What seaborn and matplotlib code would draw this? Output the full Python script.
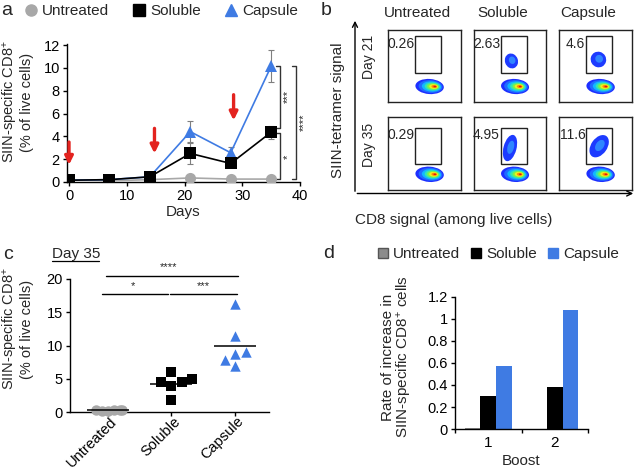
import numpy as np
import pandas as pd
import matplotlib
matplotlib.use("Agg")
import matplotlib.pyplot as plt
import matplotlib.transforms as mtransforms
from matplotlib.patches import Ellipse, Rectangle, FancyArrowPatch
from matplotlib.lines import Line2D
import seaborn as sns

# ---- data ----
# a: time course (% SIIN-specific CD8+ of live cells)
days = [0, 7, 14, 21, 28, 35]
untreated_time = [0.2, 0.1, 0.2, 0.35, 0.25, 0.25]
soluble_time = [0.15, 0.2, 0.45, 2.5, 1.62, 4.36]
soluble_err = [0.05, 0.05, 0.1, 0.95, 0.3, 0.58]
capsule_time = [0.15, 0.2, 0.45, 4.41, 2.56, 10.15]
capsule_err = [0.05, 0.05, 0.1, 0.9, 0.5, 1.4]
boost_days = [0, 14.8, 28.5]
arrow_tail = [3.5, 4.7, 7.65]
arrow_tip = [1.5, 2.5, 5.4]

# b: flow cytometry gates
flow_groups = ["Untreated", "Soluble", "Capsule"]
flow_days = ["Day 21", "Day 35"]
flow_pct = [["0.26", "2.63", "4.6"], ["0.29", "4.95", "11.6"]]

# c: day 35 individual mice
groups = ["Untreated", "Soluble", "Capsule"]
untreated_d35 = [0.2, 0.3, 0.4, 0.25, 0.35, 0.3]
soluble_d35 = [5.0, 4.5, 4.0, 4.6, 6.0, 1.8]
capsule_d35 = [16.2, 11.4, 9.0, 8.7, 7.8, 7.0]

# d: rate of increase per boost
boosts = ["1", "2"]
untreated_rate = [0.012, 0.004]
soluble_rate = [0.30, 0.385]
capsule_rate = [0.575, 1.08]
rate_ticks = [0, 0.2, 0.4, 0.6, 0.8, 1.0, 1.2]
rate_labels = ["0", "0.2", "0.4", "0.6", "0.8", "1", "1.2"]

GREY = "#a8a8a8"
BLUE = "#3f7be3"
RED = "#e3231f"
W, H = 637, 469

sns.set_style("ticks")
plt.rcParams["font.family"] = ["Liberation Sans", "DejaVu Sans"]
plt.rcParams["mathtext.default"] = "regular"
plt.rcParams["axes.linewidth"] = 1.0
plt.rcParams["xtick.major.size"] = 3
plt.rcParams["ytick.major.size"] = 3
plt.rcParams["xtick.major.width"] = 1
plt.rcParams["ytick.major.width"] = 1
plt.rcParams["xtick.major.pad"] = 2
plt.rcParams["ytick.major.pad"] = 2

fig = plt.figure(figsize=(W / 100, H / 100), dpi=100)


def box(x0, y0, x1, y1):
    # pixel box (from top-left) -> figure rect
    return [x0 / W, 1 - y1 / H, (x1 - x0) / W, (y1 - y0) / H]


def fpos(x, y):
    return (x / W, 1 - y / H)


def style_axes(ax):
    sns.despine(ax=ax)
    ax.tick_params(labelsize=10.5, colors="black")
    for s in ax.spines.values():
        s.set_color("black")


# ================= panel a =================
ax_a = fig.add_axes(box(66.7, 44, 300, 182.5))
df_a = pd.DataFrame({
    "day": days * 3,
    "value": untreated_time + soluble_time + capsule_time,
    "group": ["Untreated"] * 6 + ["Soluble"] * 6 + ["Capsule"] * 6,
})
ax_a.errorbar(days, soluble_time, yerr=soluble_err, fmt="none", ecolor="#7f7f7f",
              elinewidth=0.8, capsize=2, capthick=0.8, zorder=2)
ax_a.errorbar(days, capsule_time, yerr=capsule_err, fmt="none", ecolor="#7f7f7f",
              elinewidth=0.8, capsize=2, capthick=0.8, zorder=2)
sns.lineplot(data=df_a, x="day", y="value", hue="group", style="group",
             hue_order=["Untreated", "Capsule", "Soluble"],
             style_order=["Untreated", "Capsule", "Soluble"],
             palette={"Untreated": GREY, "Soluble": "black", "Capsule": BLUE},
             markers={"Untreated": "o", "Soluble": "s", "Capsule": "^"},
             dashes=False, markersize=8, markeredgewidth=0, linewidth=1.2,
             legend=False, ax=ax_a, zorder=3)
for d, t0, t1 in zip(boost_days, arrow_tail, arrow_tip):
    ax_a.annotate("", xy=(d, t1), xytext=(d, t0), annotation_clip=False,
                  arrowprops=dict(arrowstyle="-|>", color=RED, lw=2.4,
                                  mutation_scale=12, shrinkA=0, shrinkB=0))


def bracket(ax, x, y0, y1, tick):
    ax.plot([x - tick, x, x, x - tick], [y0, y0, y1, y1], color="#333333",
            lw=1, clip_on=False)


bracket(ax_a, 36.5, 10.15, 4.7, 0.6)
bracket(ax_a, 36.5, 4.27, 0.3, 0.6)
bracket(ax_a, 39.3, 10.15, 0.3, 0.6)
ax_a.text(37.9, 7.5, "***", rotation=90, ha="center", va="center", fontsize=8, clip_on=False)
ax_a.text(37.9, 2.2, "*", rotation=90, ha="center", va="center", fontsize=8, clip_on=False)
ax_a.text(40.7, 5.2, "****", rotation=90, ha="center", va="center", fontsize=8, clip_on=False)

ax_a.set_xlim(-0.4, 40)
ax_a.set_ylim(-0.05, 12.1)
ax_a.set_xticks([0, 10, 20, 30, 40])
ax_a.set_yticks([0, 2, 4, 6, 8, 10, 12])
ax_a.set_xlabel("Days", fontsize=11, labelpad=1)
ax_a.set_ylabel("SIIN-specific CD8$^{+}$\n(% of live cells)", fontsize=10.5,
                linespacing=1.0)
ax_a.yaxis.label.set_va("center")
ax_a.yaxis.set_label_coords((17 - 66.7) / 233.3, (182.5 - 102) / 138.5)
style_axes(ax_a)

leg_a = [Line2D([], [], marker="o", color=GREY, ls="none", ms=8),
         Line2D([], [], marker="s", color="black", ls="none", ms=8),
         Line2D([], [], marker="^", color=BLUE, ls="none", ms=8)]
fig.legend(leg_a, groups, loc="center left", bbox_to_anchor=fpos(25, 11),
           ncol=3, frameon=False, fontsize=11, handlelength=0.8,
           handletextpad=0.3, columnspacing=1.6, borderaxespad=0, borderpad=0)

# ================= panel b =================
col_x = [(388, 461), (474, 546), (559, 632)]
row_y = [(30, 102), (117, 190)]
gate_y = [(0.40, 0.92), (0.36, 0.855)]
pct_y = [0.746, 0.704]
# tetramer+ cluster geometry (cx, cy, w, h, angle) for each box
pos_pop = {(0, 1): (0.52, 0.57, 0.18, 0.21, 20), (0, 2): (0.54, 0.59, 0.21, 0.22, 30),
           (1, 1): (0.5, 0.575, 0.18, 0.37, -15), (1, 2): (0.55, 0.6, 0.22, 0.34, -35)}
jet = ["#1d2fff", "#1f6bff", "#12b7ff", "#35e6b0", "#7cf24a", "#f2ee1e", "#ff8c00", "#dd1515"]
scales = [1.0, 0.84, 0.68, 0.54, 0.42, 0.31, 0.2, 0.1]

for r in range(2):
    for c in range(3):
        axb = fig.add_axes(box(col_x[c][0], row_y[r][0], col_x[c][1], row_y[r][1]))
        axb.set_xlim(0, 1)
        axb.set_ylim(0, 1)
        axb.set_xticks([])
        axb.set_yticks([])
        for s in axb.spines.values():
            s.set_color("#222222")
            s.set_linewidth(1)
        g0, g1 = gate_y[r]
        axb.add_patch(Rectangle((0.37, g0), 0.36, g1 - g0, fill=False,
                                edgecolor="#222222", lw=1, zorder=5))
        axb.text(0.36, pct_y[r], flow_pct[r][c], ha="right", va="baseline",
                 fontsize=10)
        # CD8+ tetramer- cluster
        for col, sc in zip(jet, scales):
            cx = 0.57 + 0.08 * (1 - sc)
            axb.add_patch(Ellipse((cx, 0.215), 0.39 * sc, 0.21 * sc,
                                  angle=-4, color=col, lw=0))
        if (r, c) in pos_pop:
            cx, cy, w, h, ang = pos_pop[(r, c)]
            axb.add_patch(Ellipse((cx, cy), w, h, angle=ang, color="#1d3bff", lw=0))
            axb.add_patch(Ellipse((cx + 0.01, cy + 0.01), w * 0.5, h * 0.5,
                                  angle=ang, color="#2f86ff", lw=0))

# axes arrows and labels
fig.add_artist(FancyArrowPatch(
    fpos(355, 194), fpos(355, 18), arrowstyle="->", mutation_scale=9,
    lw=1, color="black", transform=fig.transFigure))
fig.add_artist(FancyArrowPatch(
    fpos(354.5, 193.5), fpos(636, 193.5), arrowstyle="->", mutation_scale=9,
    lw=1, color="black", transform=fig.transFigure))
fig.text(*fpos(338, 110), "SIIN-tetramer signal", rotation=90, ha="center",
         va="center", fontsize=11)
fig.text(*fpos(454, 220), "CD8 signal (among live cells)", ha="center",
         va="center", fontsize=11)
for r, lab in enumerate(flow_days):
    yc = (row_y[r][0] + row_y[r][1]) / 2 - 9
    fig.text(*fpos(369, yc), lab, rotation=90, ha="center", va="center", fontsize=10)
for c, lab in enumerate(flow_groups):
    xc = (col_x[c][0] + col_x[c][1]) / 2 - 7
    fig.text(*fpos(xc, 16.7), lab, ha="center", va="baseline", fontsize=11)

# ================= panel c =================
ax_c = fig.add_axes(box(70, 279, 269, 412.3))
df_c = pd.DataFrame({
    "group": ["Untreated"] * 6 + ["Soluble"] * 6 + ["Capsule"] * 6,
    "value": untreated_d35 + soluble_d35 + capsule_d35,
})
for g, m, col in zip(groups, ["o", "s", "^"], [GREY, "black", BLUE]):
    sns.swarmplot(data=df_c[df_c["group"] == g], x="group", y="value", order=groups,
                  marker=m, color=col, size=7.5, linewidth=0, ax=ax_c, zorder=3,
                  clip_on=False, warn_thresh=1)

means = df_c.groupby("group")["value"].mean().reindex(groups).values
ax_c.hlines(means, np.arange(3) - 0.33, np.arange(3) + 0.33, color="black",
            lw=1.1, zorder=4)
ax_c.set_xlim(-0.6, 2.54)
ax_c.set_ylim(0, 20)
ax_c.set_yticks([0, 5, 10, 15, 20])
ax_c.set_xlabel("")
ax_c.set_ylabel("SIIN-specific CD8$^{+}$\n(% of live cells)", fontsize=10.5,
                linespacing=1.0)
ax_c.yaxis.label.set_va("center")
ax_c.yaxis.set_label_coords((17 - 70) / 199, (412.3 - 329) / 133.3)
style_axes(ax_c)
ax_c.tick_params(axis="x", labelsize=10.5)
shift = mtransforms.ScaledTranslation(5 / 72, 0, fig.dpi_scale_trans)
for lab in ax_c.get_xticklabels():
    lab.set_rotation(45)
    lab.set_ha("right")
    lab.set_va("center")
    lab.set_rotation_mode("anchor")
    lab.set_transform(lab.get_transform() + shift)

# significance lines
ax_c.plot([-0.03, 2.05], [20.5, 20.5], color="black", lw=1, clip_on=False)
ax_c.plot([-0.09, 0.94], [17.8, 17.8], color="black", lw=1, clip_on=False)
ax_c.plot([0.98, 2.03], [17.8, 17.8], color="black", lw=1, clip_on=False)
ax_c.text(0.96, 21.0, "****", ha="center", va="bottom", fontsize=8, clip_on=False)
ax_c.text(0.4, 18.2, "*", ha="center", va="bottom", fontsize=8, clip_on=False)
ax_c.text(1.5, 18.2, "***", ha="center", va="bottom", fontsize=8, clip_on=False)

fig.text(*fpos(52, 258), "Day 35", ha="left", va="baseline", fontsize=11)
fig.add_artist(Line2D([52 / W, 99 / W], [1 - 261 / H] * 2, color="black", lw=0.9))

# ================= panel d =================
ax_d = fig.add_axes(box(455, 297, 588, 429))
df_d = pd.DataFrame({
    "boost": boosts * 3,
    "value": untreated_rate + soluble_rate + capsule_rate,
    "group": ["Untreated"] * 2 + ["Soluble"] * 2 + ["Capsule"] * 2,
})
sns.barplot(data=df_d, x="boost", y="value", hue="group", hue_order=groups,
            palette=["#8c8c8c", "black", BLUE], saturation=1, width=0.7,
            legend=False, ax=ax_d, linewidth=0)
ax_d.set_xlim(-0.5, 1.5)
ax_d.set_ylim(0, 1.2)
ax_d.set_yticks(rate_ticks)
ax_d.set_yticklabels(rate_labels)
ax_d.set_xlabel("Boost", fontsize=11, labelpad=3)
ax_d.set_ylabel("Rate of increase in\nSIIN-specific CD8$^{+}$ cells", fontsize=11,
                linespacing=1.0)
ax_d.yaxis.label.set_va("center")
ax_d.yaxis.set_label_coords((397 - 455) / 133, (429 - 357) / 132)
style_axes(ax_d)
ax_d.tick_params(axis="x", length=0, labelsize=11, pad=5)
ax_d.set_xticks([-0.5, 0.5, 1.5], minor=True)
ax_d.tick_params(axis="x", which="minor", length=3, width=1, color="black")

leg_d = [Line2D([], [], marker="s", color="#8c8c8c", mec="#555555", ls="none", ms=7),
         Line2D([], [], marker="s", color="black", ls="none", ms=7),
         Line2D([], [], marker="s", color=BLUE, ls="none", ms=7)]
fig.legend(leg_d, groups, loc="center left", bbox_to_anchor=fpos(378, 254),
           ncol=3, frameon=False, fontsize=11, handlelength=0.7,
           handletextpad=0.3, columnspacing=0.7, borderaxespad=0, borderpad=0)

# panel letters
for lab, x, y in [("a", 1, 15), ("b", 321, 15), ("c", 3, 259), ("d", 323, 258)]:
    fig.text(*fpos(x, y), lab, fontsize=14, ha="left", va="baseline")

# seaborn lays out the swarm at draw time; run it once, then pull the
# heavily overlapping untreated mice together as in the original
fig.canvas.draw()
unt = ax_c.collections[0]
if "draw" in unt.__dict__:
    del unt.draw
offs = np.asarray(unt.get_offsets()).copy()
offs[:, 0] = offs[:, 0] * 0.55
unt.set_offsets(offs)

fig.savefig("out.png", dpi=100)
